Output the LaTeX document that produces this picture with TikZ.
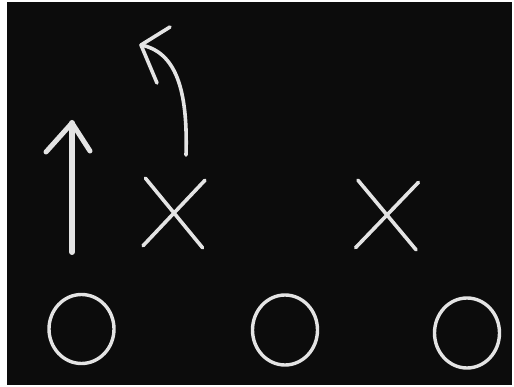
\documentclass[tikz,border=0pt]{standalone}
\usetikzlibrary{shapes.geometric,shapes.misc}
\definecolor{board}{RGB}{12,12,12}
\definecolor{chalk}{RGB}{228,228,228}
\begin{document}
\begin{tikzpicture}[x=1pt,y=-1pt,
  chalkline/.style={draw=chalk,line cap=round,line join=round},
  ring/.style={chalkline,ellipse,line width=3.4pt,inner sep=0pt},
  xmark/.style={chalkline,cross out,line width=3.6pt,inner sep=0pt}]
\fill[white] (0,0) rectangle (514,387);
\useasboundingbox (0,0) rectangle (514,387);
\fill[board] (7,2) rectangle (512,385);
% circles
\node[ring,minimum width=65pt,minimum height=69pt] (o1) at (81.5,329) {};
\node[ring,minimum width=65pt,minimum height=70pt] (o2) at (285,330) {};
\node[ring,minimum width=65pt,minimum height=70pt] (o3) at (467,333) {};
% crosses
\node[xmark,minimum width=56pt,minimum height=64pt,rotate=-2] (x1) at (174,213) {};
\node[xmark,minimum width=57pt,minimum height=64pt,rotate=-2] (x2) at (387,215) {};
% straight arrow
\coordinate (s0) at (72,252);
\coordinate (s1) at (72,123);
\draw[chalkline,line width=6pt] (s0) -- (s1);
\draw[chalkline,line width=5pt] (46,152) -- (s1) -- (90,151);
% curved arrow
\coordinate (c0) at (186,155);
\coordinate (c1) at (141,45);
\draw[chalkline,line width=3.6pt] (c0) .. controls (188,90) and (176,52) .. (c1);
\draw[chalkline,line width=3.6pt] (170,27) -- (c1) -- (157,83);
\end{tikzpicture}
\end{document}
